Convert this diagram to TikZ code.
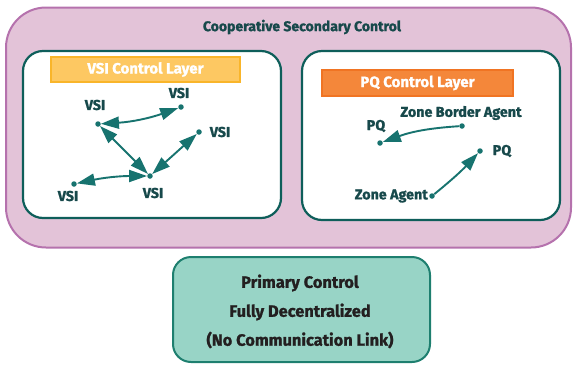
\documentclass[tikz,border=0pt]{standalone}
\usepackage{fontspec}
\setmainfont{Fira Sans}[BoldFeatures={FakeBold=1.2}]
\usetikzlibrary{arrows.meta}
\definecolor{outerfill}{HTML}{E3C3D8}
\definecolor{outerline}{HTML}{B572AD}
\definecolor{tealline}{HTML}{0E5E5A}
\definecolor{linkcol}{HTML}{17736F}
\definecolor{labelcol}{HTML}{17494B}
\definecolor{vsifill}{HTML}{FDC862}
\definecolor{vsiline}{HTML}{F9B52A}
\definecolor{pqfill}{HTML}{F4873A}
\definecolor{pqline}{HTML}{F07423}
\definecolor{primfill}{HTML}{98D4C6}
\definecolor{primline}{HTML}{1E7F6F}
\definecolor{primtext}{HTML}{231F20}
\tikzset{
  panel/.style={draw=tealline, line width=2.2pt, fill=white, rounded corners=20pt, inner sep=0pt},
  banner/.style={line width=1.2pt, inner sep=0pt, text=white, font=\bfseries\fontsize{15}{17}\selectfont},
  dot/.style={circle, fill=linkcol, inner sep=0pt, minimum size=5.5pt},
  lbl/.style={text=labelcol, inner sep=0pt, font=\bfseries\fontsize{14.3}{16}\selectfont},
  tip/.tip={Triangle[length=18pt,width=12pt]},
  link/.style={draw=linkcol, line width=1.9pt, -tip},
  duplex/.style={draw=linkcol, line width=1.9pt, tip-tip},
  primtxt/.style={text=primtext, inner sep=0pt, font=\bfseries\fontsize{16.4}{18}\selectfont}
}
\begin{document}
\begin{tikzpicture}[x=1pt, y=-1pt]
\useasboundingbox (0,0) rectangle (573,365);

% outer secondary-control frame
\node[draw=outerline, fill=outerfill, line width=2pt, rounded corners=40pt,
      minimum width=565pt, minimum height=240pt, inner sep=0pt] (secondary) at (288.5,127.5) {};
\node[lbl, font=\bfseries\fontsize{14}{16}\selectfont] (sectitle) at (302,27) {Cooperative Secondary Control};

% panels
\node[panel, minimum width=258pt, minimum height=167pt] (vsipanel) at (152,134.5) {};
\node[panel, minimum width=258pt, minimum height=169pt] (pqpanel) at (431,135.5) {};

% layer banners
\node[banner, draw=vsiline, fill=vsifill, minimum width=189pt, minimum height=25pt] (vsibanner) at (145.5,69.5) {VSI Control Layer};
\node[banner, draw=pqline, fill=pqfill, minimum width=191pt, minimum height=26pt] (pqbanner) at (417.5,83) {PQ Control Layer};

% VSI agents
\node[dot] (va) at (98,124) {};
\node[dot] (vb) at (181,107) {};
\node[dot] (vc) at (199,132) {};
\node[dot] (vd) at (150,176) {};
\node[dot] (ve) at (74,184) {};
\node[lbl] (la) at (95,105) {VSI};
\node[lbl] (lb) at (179,93) {VSI};
\node[lbl] (lc) at (220,132) {VSI};
\node[lbl] (ld) at (153,193) {VSI};
\node[lbl] (le) at (68,196) {VSI};

\draw[duplex] (va) to[bend right=8] (vb);
\draw[duplex] (va) -- (vd);
\draw[duplex] (vc) -- (vd);
\draw[duplex] (ve) to[bend left=6] (vd);

% PQ agents
\node[dot] (pl) at (380,143) {};
\node[dot] (zb) at (462,126) {};
\node[dot] (pr) at (480,151) {};
\node[dot] (za) at (432,196) {};
\node[lbl] (lpl) at (376,126) {PQ};
\node[lbl] (lzb) at (461,113) {Zone Border Agent};
\node[lbl] (lpr) at (502,151) {PQ};
\node[lbl, anchor=east] (lza) at (428,196) {Zone Agent};

\draw[link] (zb) to[bend right=8] (pl);
\draw[link] (za) to[bend right=4] (pr);

% primary control
\node[draw=primline, fill=primfill, line width=2pt, rounded corners=18pt,
      minimum width=257pt, minimum height=105pt, inner sep=0pt] (primary) at (301.5,309.5) {};
\node[primtxt] (p1) at (300,283) {Primary Control};
\node[primtxt] (p2) at (300,312) {Fully Decentralized};
\node[primtxt] (p3) at (300,340) {(No Communication Link)};
\end{tikzpicture}
\end{document}
